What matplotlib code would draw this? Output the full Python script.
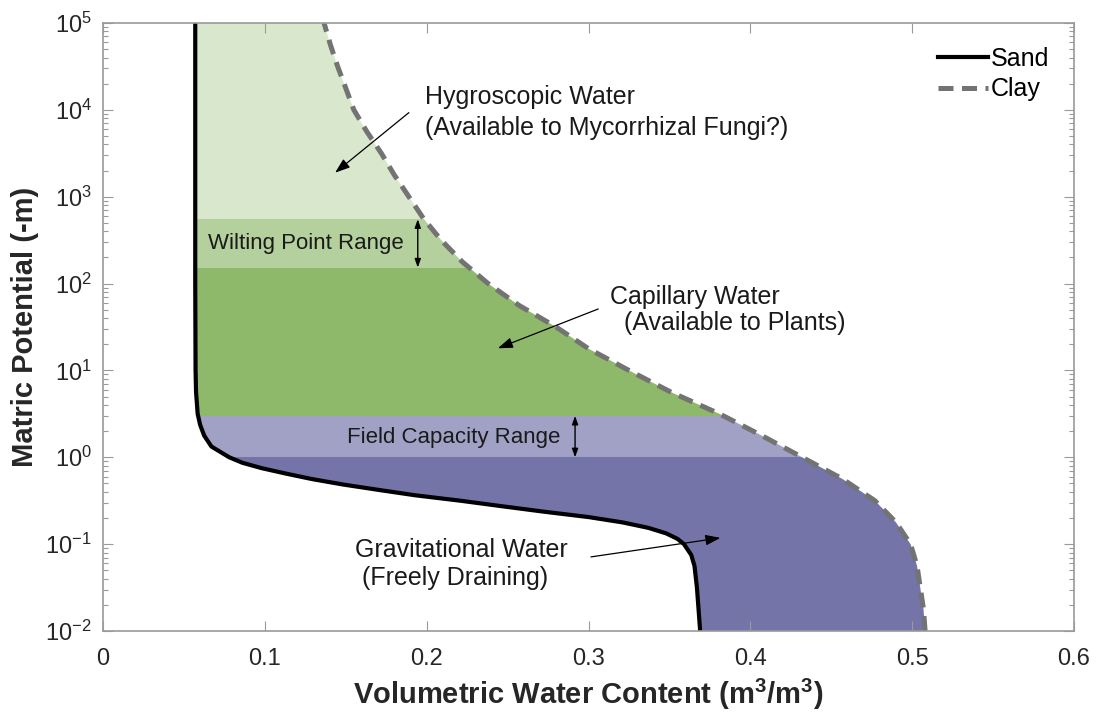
import matplotlib
matplotlib.use('Agg')
import matplotlib.pyplot as plt
from matplotlib.patches import Polygon
from matplotlib.lines import Line2D
from matplotlib.ticker import LogLocator, NullFormatter

plt.rcParams['font.family'] = ['Liberation Sans', 'DejaVu Sans']
plt.rcParams['mathtext.fontset'] = 'custom'
plt.rcParams['mathtext.rm'] = 'Liberation Sans'
plt.rcParams['mathtext.bf'] = 'Liberation Sans:bold'

# ---------------- data ----------------
# Sand retention curve, ordered from dry (top) to wet (bottom)
sand_psi = [1e5, 100, 10, 5.62, 3.16, 2.37, 1.78, 1.33, 1.0, 0.866, 0.750,
            0.649, 0.562, 0.487, 0.422, 0.365, 0.316, 0.274, 0.237, 0.205,
            0.178, 0.154, 0.133, 0.115, 0.1, 0.075, 0.056, 0.0316, 0.0178, 0.01]
sand_theta = [0.057, 0.057, 0.0572, 0.0575, 0.0585, 0.060, 0.0625, 0.067, 0.078,
              0.086, 0.098, 0.113, 0.129, 0.148, 0.170, 0.193, 0.221, 0.246,
              0.272, 0.300, 0.321, 0.337, 0.348, 0.355, 0.359, 0.3635, 0.3655,
              0.367, 0.368, 0.369]

# Clay retention curve, ordered from wet (bottom) to dry (top)
clay_psi = [0.01, 0.0178, 0.0316, 0.0562, 0.1, 0.178, 0.316, 0.562, 1.0, 1.78,
            3.16, 5.62, 10, 17.8, 31.6, 56.2, 100, 178, 316, 562, 1000, 1780,
            3160, 5620, 1e4, 1.78e4, 3.16e4, 5.62e4, 1e5]
clay_theta = [0.508, 0.507, 0.505, 0.503, 0.499, 0.490, 0.477, 0.457, 0.432,
              0.407, 0.381, 0.351, 0.325, 0.300, 0.280, 0.257, 0.238, 0.222,
              0.209, 0.198, 0.189, 0.180, 0.172, 0.163, 0.155, 0.150, 0.145,
              0.1405, 0.1366]

# Water bands (matric potential limits, -m)
band_lo = [1e-2, 1, 3, 153, 550]
band_hi = [1, 3, 153, 550, 1e5]
band_colors = ['#7474a8', '#a1a1c6', '#8fb96a', '#b4d09c', '#d9e8cc']

x_ticks = [0, 0.1, 0.2, 0.3, 0.4, 0.5, 0.6]
x_ticklabels = ['0', '0.1', '0.2', '0.3', '0.4', '0.5', '0.6']

# ---------------- figure ----------------
fig = plt.figure(figsize=(10.97, 7.14), dpi=100)
ax = fig.add_axes([103 / 1097, 83 / 714, 971 / 1097, 608 / 714])
ax.set_yscale('log')
ax.set_xlim(0, 0.6)
ax.set_ylim(1e-2, 1e5)

# region between sand and clay curves used as clip path for bands
verts = list(zip(sand_theta, sand_psi)) + list(zip(clay_theta, clay_psi))
poly = Polygon(verts, closed=True, facecolor='none', edgecolor='none',
               transform=ax.transData)
ax.add_patch(poly)
for lo, hi, c in zip(band_lo, band_hi, band_colors):
    sp = ax.axhspan(lo, hi, xmin=0, xmax=1, facecolor=c, edgecolor='none', zorder=1)
    sp.set_clip_path(poly)

clay_ls = (0, (3.0, 1.7))
ax.plot(sand_theta, sand_psi, color='black', lw=3.0, zorder=4,
        solid_capstyle='butt', solid_joinstyle='round')
ax.plot(clay_theta, clay_psi, color='#737373', lw=3.6, zorder=4,
        linestyle=clay_ls, dash_capstyle='butt', dash_joinstyle='round')

# ---------------- annotations ----------------
ann = dict(fontsize=18, color='#1a1a1a', va='center', ha='left', zorder=6)
ax.text(0.199, 1.42e4, 'Hygroscopic Water', **ann)
ax.text(0.199, 6.24e3, '(Available to Mycorrhizal Fungi?)', **ann)
ax.text(0.3133, 70.5, 'Capillary Water', **ann)
ax.text(0.3133, 35.3, '  (Available to Plants)', **ann)
ax.text(0.1557, 0.0857, 'Gravitational Water', **ann)
ax.text(0.1557, 0.0408, ' (Freely Draining)', **ann)

ax.text(0.0649, 290, 'Wilting Point Range', fontsize=16, color='#1a1a1a',
        va='center', ha='left', zorder=6)
ax.text(0.1508, 1.68, 'Field Capacity Range', fontsize=16, color='#1a1a1a',
        va='center', ha='left', zorder=6)

arrow_kw = dict(arrowstyle='-|>,head_length=0.9,head_width=0.32', color='black',
                lw=0.9, shrinkA=0, shrinkB=0)
ax.annotate('', xy=(0.1434, 1890), xytext=(0.189, 9290), arrowprops=arrow_kw, zorder=6)
ax.annotate('', xy=(0.244, 18), xytext=(0.306, 51), arrowprops=arrow_kw, zorder=6)
ax.annotate('', xy=(0.3815, 0.118), xytext=(0.3015, 0.0713), arrowprops=arrow_kw, zorder=6)

dbl = dict(arrowstyle='<|-|>,head_length=0.5,head_width=0.18', color='black',
           lw=1.0, shrinkA=0, shrinkB=0)
ax.annotate('', xy=(0.1945, 550), xytext=(0.1945, 153), arrowprops=dbl, zorder=6)
ax.annotate('', xy=(0.2917, 3), xytext=(0.2917, 1), arrowprops=dbl, zorder=6)

# ---------------- axes styling ----------------
ax.set_xticks(x_ticks)
ax.set_xticklabels(x_ticklabels)
ax.yaxis.set_major_locator(LogLocator(base=10, numticks=20))
ax.yaxis.set_minor_locator(LogLocator(base=10, subs=range(2, 10), numticks=100))
ax.yaxis.set_minor_formatter(NullFormatter())

spine_c = '#9a9a9a'
for s in ax.spines.values():
    s.set_color(spine_c)
    s.set_linewidth(1.2)
    s.set_zorder(7)
ax.tick_params(which='both', direction='in', top=True, right=True,
               color=spine_c, labelcolor='#262626', labelsize=17)
ax.tick_params(which='major', length=7, width=0.8)
ax.tick_params(which='minor', length=3.5, width=0.8)
ax.tick_params(axis='x', which='major', pad=12)
ax.tick_params(axis='y', which='major', pad=8)

ax.set_xlabel('Volumetric Water Content (m$^\\mathbf{3}$/m$^\\mathbf{3}$)',
              fontsize=21, fontweight='bold', color='#262626', va='center')
ax.set_ylabel('Matric Potential (-m)', fontsize=21, fontweight='bold',
              color='#262626', va='center')
ax.xaxis.set_label_coords(0.4995, -0.105)
ax.yaxis.set_label_coords(-0.080, 0.5)

handles = [Line2D([], [], color='black', lw=3.0),
           Line2D([], [], color='#737373', lw=3.6, linestyle=clay_ls)]
ax.legend(handles, ['Sand', 'Clay'], loc='upper right', frameon=False,
          fontsize=18, handlelength=2.0, handletextpad=0.1, labelspacing=0.25,
          bbox_to_anchor=(0.99, 0.985), borderaxespad=0.2)

fig.savefig('out.png', dpi=100)
